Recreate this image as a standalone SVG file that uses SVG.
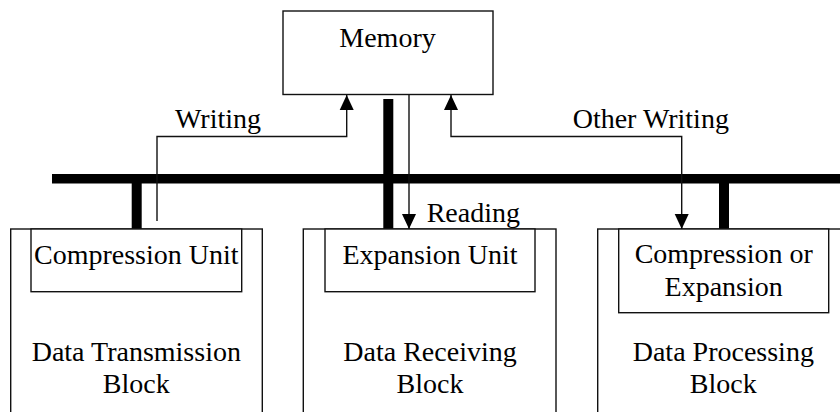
<svg xmlns="http://www.w3.org/2000/svg" width="840" height="412" viewBox="0 0 840 412">
  <style>
    .box { fill: #fff; stroke: #111; stroke-width: 1.4; }
    .bus { fill: #000; }
    .wire { fill: none; stroke: #111; stroke-width: 1.4; }
    .lbl { font-family: "Liberation Serif", "Times New Roman", serif; font-size: 28px; fill: #000; }
    .c { text-anchor: middle; }
  </style>
  <defs>
    <marker id="head" markerUnits="userSpaceOnUse" markerWidth="15" markerHeight="15" viewBox="0 0 15 15" refX="15" refY="7.5" orient="auto-start-reverse">
      <path d="M0,0.5 L15,7.5 L0,14.5 Z" fill="#000"/>
    </marker>
  </defs>
  <rect width="840" height="412" fill="#fff"/>

  <!-- shared bus -->
  <g id="bus">
    <rect class="bus" x="52" y="174" width="788" height="9.5"/>
    <rect class="bus" x="131.7" y="179" width="10" height="50"/>
    <rect class="bus" x="383.3" y="99" width="10" height="130"/>
    <rect class="bus" x="719" y="179" width="10" height="50"/>
  </g>

  <g id="memory">
    <rect class="box" x="283" y="11" width="210" height="83.5"/>
    <text class="lbl c" x="387.5" y="46.7">Memory</text>
  </g>

  <g id="transmission-block">
    <rect class="box" x="10.7" y="229" width="251.6" height="200"/>
    <rect class="box" x="31" y="229" width="210.7" height="62.7"/>
    <text class="lbl c" x="136.3" y="264">Compression Unit</text>
    <text class="lbl c" x="136.3" y="360.7">Data Transmission</text>
    <text class="lbl c" x="136.3" y="392.7">Block</text>
  </g>

  <g id="receiving-block">
    <rect class="box" x="303.3" y="229" width="252.7" height="200"/>
    <rect class="box" x="325" y="229" width="210" height="62.7"/>
    <text class="lbl c" x="430" y="264">Expansion Unit</text>
    <text class="lbl c" x="430" y="360.7">Data Receiving</text>
    <text class="lbl c" x="430" y="392.7">Block</text>
  </g>

  <g id="processing-block">
    <rect class="box" x="597.7" y="229" width="260" height="200"/>
    <rect class="box" x="618.7" y="229" width="210" height="83.7"/>
    <text class="lbl c" x="723.7" y="263.3">Compression or</text>
    <text class="lbl c" x="723.7" y="295.7">Expansion</text>
    <text class="lbl c" x="723.3" y="360.7">Data Processing</text>
    <text class="lbl c" x="723.3" y="392.7">Block</text>
  </g>

  <!-- data flows -->
  <g id="connectors">
    <path class="wire" d="M157,221 V136.5 H346.7 V95" marker-end="url(#head)"/>
    <path class="wire" d="M409,95 V229" marker-end="url(#head)"/>
    <path class="wire" d="M451,95 V136.5 H681.7 V229" marker-start="url(#head)" marker-end="url(#head)"/>
    <text class="lbl" x="175" y="128.3">Writing</text>
    <text class="lbl" x="426.7" y="221.7">Reading</text>
    <text class="lbl" x="572.7" y="128.3">Other Writing</text>
  </g>
</svg>
